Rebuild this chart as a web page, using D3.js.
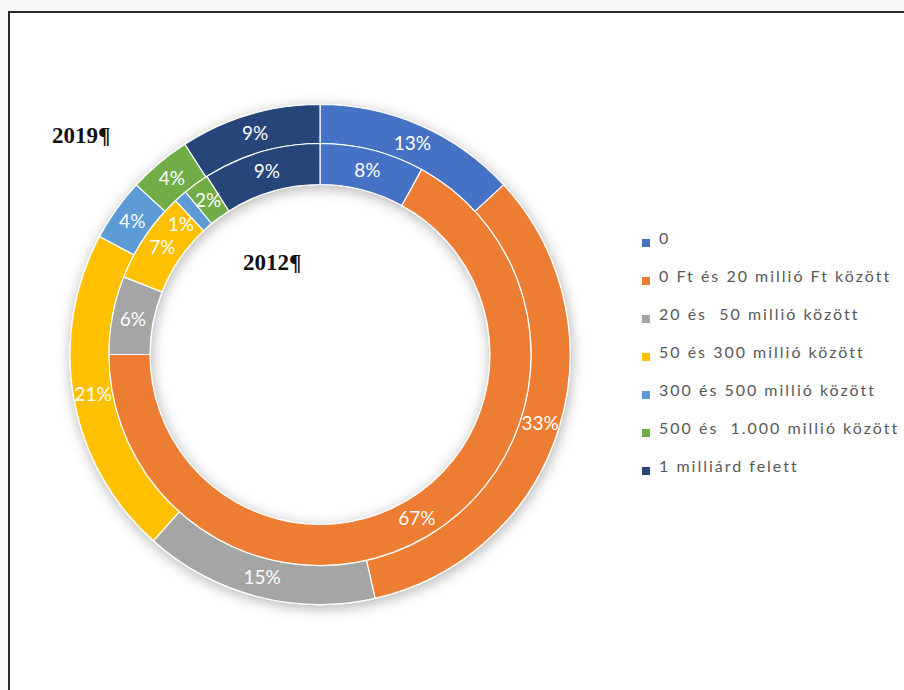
<!DOCTYPE html>
<html>
<head>
<meta charset="utf-8">
<script src="https://cdn.jsdelivr.net/npm/d3@7"></script>
<style>
  html, body { margin: 0; padding: 0; background: #f6f6f6; }
  svg { display: block; }
</style>
</head>
<body>
<svg id="chart" width="904" height="690"></svg>
<script>
// Kategóriák (árbevétel szerinti sávok)
const categories = [
  "0",
  "0 Ft és 20 millió Ft között",
  "20 és  50 millió között",
  "50 és 300 millió között",
  "300 és 500 millió között",
  "500 és  1.000 millió között",
  "1 milliárd felett"
];
// Megoszlás (%) – külső gyűrű: 2019, belső gyűrű: 2012
const values2019 = [13, 33, 15, 21, 4, 4, 9];
const values2012 = [8, 67, 6, 7, 1, 2, 9];
const colors = ["#4472C4", "#ED7D31", "#A5A5A5", "#FFC000", "#5B9BD5", "#70AD47", "#264478"];

const svg = d3.select("#chart");

// frame
svg.append("rect").attr("x", 9).attr("y", 12).attr("width", 1000).attr("height", 1000)
  .attr("fill", "#fff").attr("stroke", "#2b2b2b").attr("stroke-width", 2);

const defs = svg.append("defs");
const f = defs.append("filter").attr("id", "shadow")
  .attr("x", "-20%").attr("y", "-20%").attr("width", "140%").attr("height", "140%");
f.append("feDropShadow").attr("dx", 1).attr("dy", 3).attr("stdDeviation", 7)
  .attr("flood-color", "#000").attr("flood-opacity", 0.3);

const cx = 320, cy = 354.5;
const rings = [
  { year: "2019", values: values2019, inner: 211, outer: 250 },
  { year: "2012", values: values2012, inner: 170, outer: 211 }
];

const pie = d3.pie().sort(null).value(d => d);
const color = d3.scaleOrdinal().domain(d3.range(categories.length)).range(colors);

const g = svg.append("g").attr("transform", `translate(${cx},${cy})`);
const ringsG = g.append("g").attr("filter", "url(#shadow)");

rings.forEach(r => {
  const arc = d3.arc().innerRadius(r.inner).outerRadius(r.outer);
  const arcs = pie(r.values);
  ringsG.append("g").selectAll("path").data(arcs).join("path")
    .attr("d", arc)
    .attr("fill", (d, i) => color(i))
    .attr("stroke", "#fff").attr("stroke-width", 1.2);
  r.arc = arc; r.arcs = arcs;
});

// data labels at the middle of each slice
const labelPos = (r, a) => {
  const rm = (r.inner + r.outer) / 2;
  return [rm * Math.sin(a), -rm * Math.cos(a)];
};
const overlaps = (a, b) => !(a.x + a.width < b.x || b.x + b.width < a.x ||
                              a.y + a.height < b.y || b.y + b.height < a.y);

rings.forEach(r => {
  const labels = g.append("g").selectAll("text").data(r.arcs).join("text")
    .attr("text-anchor", "middle")
    .attr("dy", "0.36em")
    .attr("font-family", "Lato, 'Open Sans', sans-serif")
    .attr("font-size", 19)
    .attr("fill", "#fff")
    .text(d => d.data + "%")
    .each(function (d) { d.labelAngle = (d.startAngle + d.endAngle) / 2; })
    .attr("transform", d => `translate(${labelPos(r, d.labelAngle)})`);

  // nudge a label back along its ring when it collides with the next one
  const nodes = labels.nodes();
  for (let i = nodes.length - 2; i >= 0; i--) {
    const cur = d3.select(nodes[i]), next = nodes[i + 1];
    let steps = 0;
    const box = n => {
      const b = n.getBBox(), t = d3.select(n).datum();
      const p = labelPos(r, t.labelAngle);
      return { x: b.x + p[0], y: b.y + p[1], width: b.width, height: b.height };
    };
    while (overlaps(box(nodes[i]), box(next)) && steps < 40) {
      cur.datum().labelAngle -= Math.PI / 360;
      steps++;
    }
    cur.attr("transform", d => `translate(${labelPos(r, d.labelAngle)})`);
  }
});

// ring captions
svg.append("text").attr("x", 52).attr("y", 143)
  .attr("font-family", "'Liberation Serif', 'Times New Roman', serif")
  .attr("font-weight", "bold").attr("font-size", 23).attr("fill", "#111")
  .text("2019¶");
svg.append("text").attr("x", 243).attr("y", 270)
  .attr("font-family", "'Liberation Serif', 'Times New Roman', serif")
  .attr("font-weight", "bold").attr("font-size", 23).attr("fill", "#111")
  .text("2012¶");

// legend
const legend = svg.append("g").attr("transform", "translate(642,244)");
const item = legend.selectAll("g").data(categories).join("g")
  .attr("transform", (d, i) => `translate(0,${i * 38})`);
item.append("rect").attr("x", 0).attr("y", -5).attr("width", 8).attr("height", 8)
  .attr("fill", (d, i) => color(i));
item.append("text").attr("x", 17).attr("y", 0)
  .attr("font-family", "Lato, 'Open Sans', sans-serif")
  .attr("font-size", 16).attr("letter-spacing", 2)
  .attr("fill", "#595959")
  .style("white-space", "pre")
  .text(d => d);
</script>
</body>
</html>
